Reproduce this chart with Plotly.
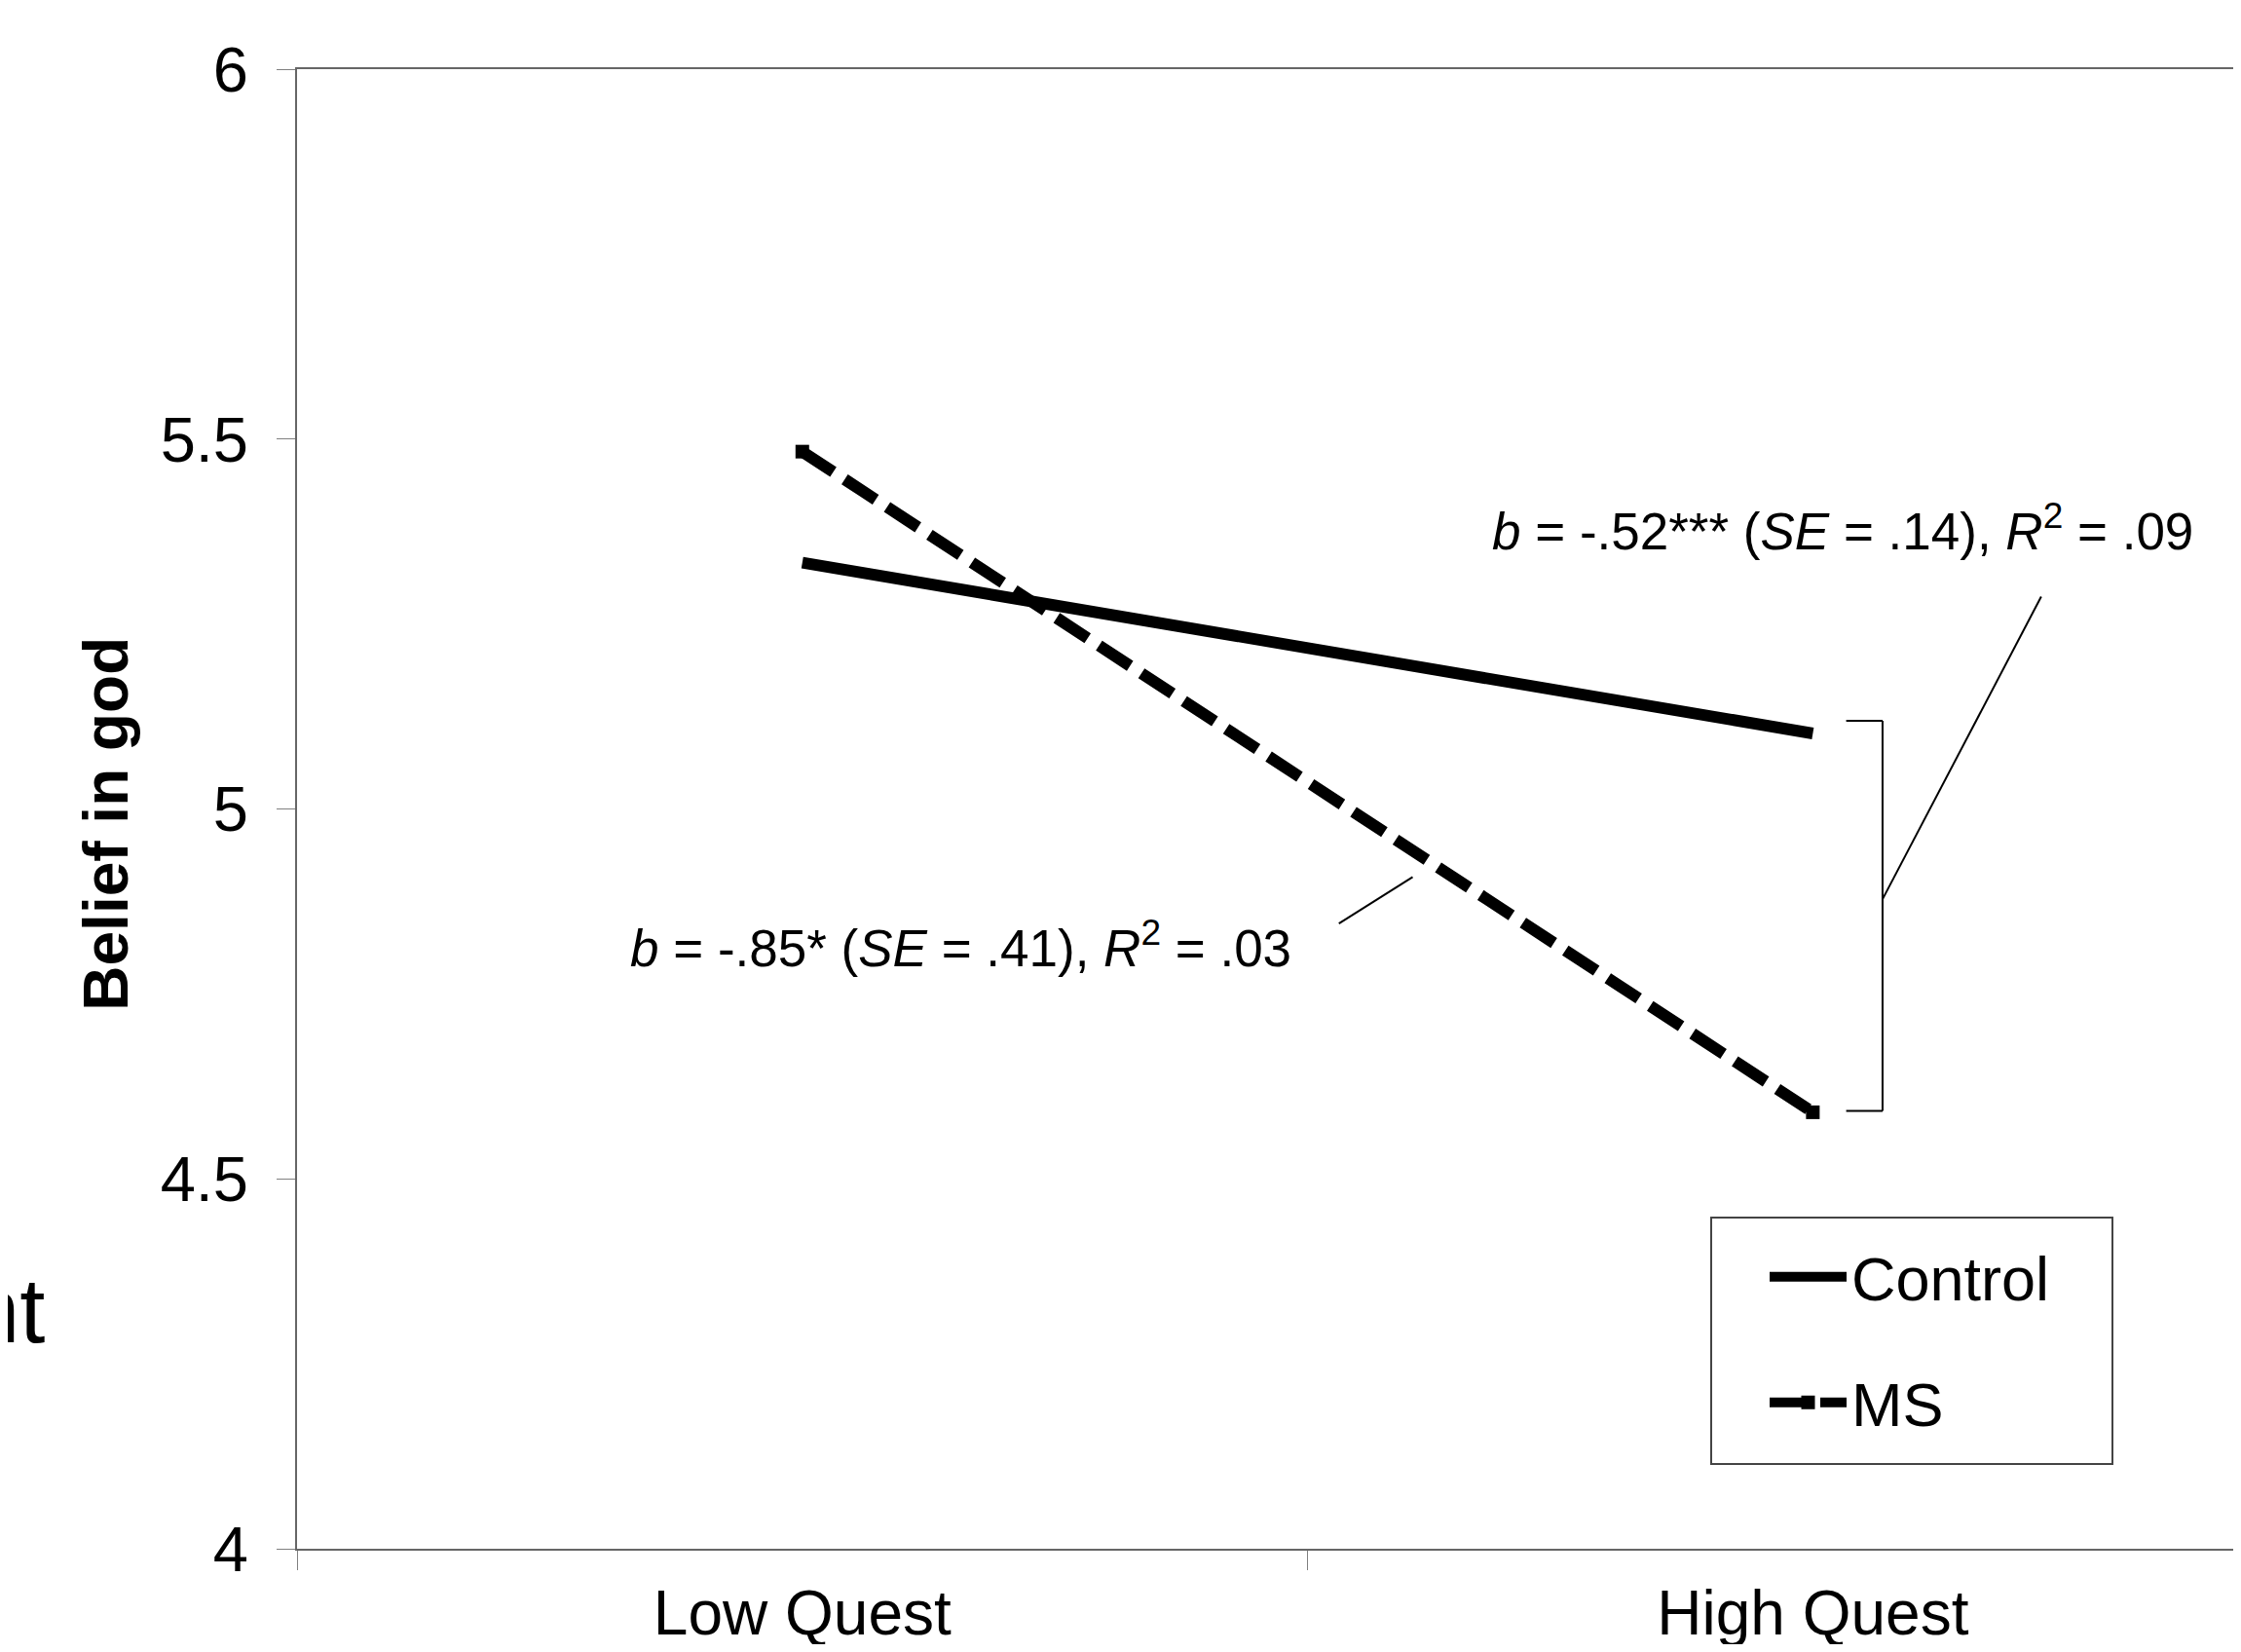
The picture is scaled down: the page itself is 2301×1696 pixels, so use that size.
import plotly.graph_objects as go

# ---- data ----
categories = ["Low Quest", "High Quest"]
control = [5.333, 5.102]
ms = [5.483, 4.590]
series_names = ["Control", "MS"]
y_ticks = [4, 4.5, 5, 5.5, 6]
y_range = [4, 6]
ann_ms = "<i>b</i> = -.85* (<i>SE</i> = .41), <i>R</i><sup>2</sup> = .03"
ann_control = "<i>b</i> = -.52*** (<i>SE</i> = .14), <i>R</i><sup>2</sup> = .09"
y_title = "<b>Belief in god</b>"
stray_text = "nt"

FONT = "Arial, 'Liberation Sans', sans-serif"

fig = go.Figure()
fig.add_trace(go.Scatter(
    x=categories, y=control, mode="lines", name=series_names[0],
    legendgroup="g1",
    line=dict(color="black", width=12),
))
fig.add_trace(go.Scatter(
    x=categories, y=ms, mode="lines+markers", name=series_names[1],
    legendgroup="g2",
    line=dict(color="black", width=12, dash="38px,14px"),
    marker=dict(symbol="square", size=14, color="black"),
))

# page body adds an 8px margin, so the figure is sized to fit inside it
W, H = 2285, 1680
L, R, T, B = 297, 0, 62.7, 98
PW = W - L - R

fig.update_layout(
    width=W, height=H,
    margin=dict(l=L, r=R, t=T, b=B, pad=0, autoexpand=False),
    paper_bgcolor="white", plot_bgcolor="white",
    font=dict(family=FONT, color="black"),
    showlegend=True,
    legend=dict(
        x=(1812 - 305) / PW, y=0.215, xanchor="left", yanchor="top",
        bgcolor="rgba(0,0,0,0)", borderwidth=0,
        font=dict(size=63, family=FONT, color="black"),
        tracegroupgap=44,
        itemwidth=79,
    ),
)

fig.update_xaxes(
    type="category", range=[-0.5, 1.416], automargin=False,
    tickson="boundaries", ticks="outside", ticklen=20, tickwidth=1,
    tickcolor="#808080",
    showline=True, linecolor="#666666", linewidth=2, mirror=True,
    showgrid=False, zeroline=False,
    tickfont=dict(size=64, family=FONT, color="black"),
    ticklabelstandoff=9,
)
fig.update_yaxes(
    range=y_range, tickvals=y_ticks, ticktext=[f"{v:g}" for v in y_ticks],
    automargin=False,
    ticks="outside", ticklen=19, tickwidth=1, tickcolor="#808080",
    showline=True, linecolor="#666666", linewidth=2,
    showgrid=False, zeroline=False,
    tickfont=dict(size=65, family=FONT, color="black"),
    ticklabelstandoff=16,
)

# legend frame
fig.add_shape(type="rect", xref="paper", yref="paper",
              x0=(1757 - 305) / PW, x1=(2169 - 305) / PW, y0=0.0573, y1=0.2238,
              line=dict(color="#444444", width=2), fillcolor="rgba(0,0,0,0)")

# annotations
fig.add_annotation(x=1.030, y=5.381, xref="x", yref="y", text=ann_control,
                   showarrow=False, font=dict(size=53, family=FONT),
                   xanchor="center", yanchor="middle")
fig.add_annotation(x=0.157, y=4.817, xref="x", yref="y", text=ann_ms,
                   showarrow=False, font=dict(size=53, family=FONT),
                   xanchor="center", yanchor="middle")

# leader lines
fig.add_shape(type="line", xref="x", yref="y", x0=0.531, y0=4.845, x1=0.604, y1=4.908,
              line=dict(color="black", width=2))
fig.add_shape(type="line", xref="x", yref="y", x0=1.226, y0=5.287, x1=1.069, y1=4.878,
              line=dict(color="black", width=2))

# bracket spanning the two High Quest values
bx0, bx1 = 1.033, 1.069
btop = control[1] + 0.017
bbot = ms[1] + 0.002
for (xa, ya, xb, yb) in [(bx0, btop, bx1, btop), (bx1, btop, bx1, bbot), (bx0, bbot, bx1, bbot)]:
    fig.add_shape(type="line", xref="x", yref="y", x0=xa, y0=ya, x1=xb, y1=yb,
                  line=dict(color="black", width=2))

# y-axis title
fig.add_annotation(x=(109 - 305) / PW, y=0.49, xref="paper", yref="paper", text=y_title,
                   textangle=-90, showarrow=False,
                   font=dict(size=64, family=FONT), xanchor="center", yanchor="middle")

# stray slide text at the left edge
fig.add_annotation(x=(48 - 305) / PW, y=0.161, xref="paper", yref="paper",
                   text=stray_text, showarrow=False,
                   font=dict(size=94, family=FONT), xanchor="right", yanchor="middle")

fig.write_html("out.html")
